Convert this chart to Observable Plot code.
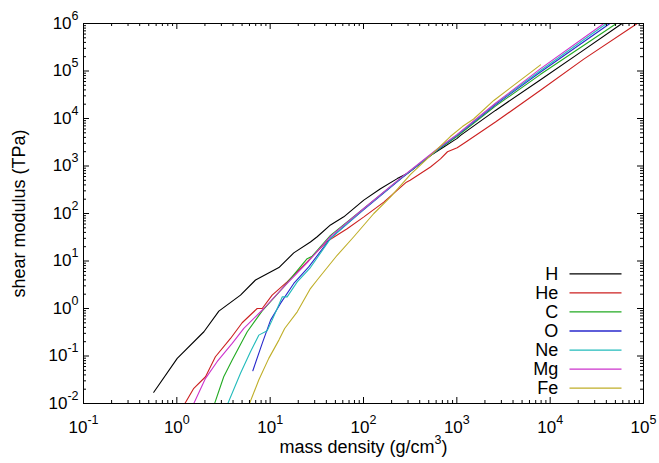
<!DOCTYPE html>
<html><head><meta charset="utf-8">
<script src="https://cdn.jsdelivr.net/npm/d3@7"></script>
<script src="https://cdn.jsdelivr.net/npm/@observablehq/plot@0.6"></script>
<style>
html,body{margin:0;padding:0;background:#fff;}
</style></head><body><div id="chart"></div>
<script>
const species = ["H", "He", "C", "O", "Ne", "Mg", "Fe"];
const colors = ["#000000", "#cc2020", "#22aa22", "#2828cc", "#22bbbb", "#cc33cc", "#bfae28"];
const xLabel = "mass density (g/cm^3)";
const yLabel = "shear modulus (TPa)";

const H_rho = [0.566, 1.01, 1.95, 2.82, 4.81, 6.97, 12.4, 17.9, 27.0, 31.9, 44.3, 61.5, 100.7, 152, 230, 294, 522, 725, 933, 1000, 1096, 2594, 7889, 19953, 58884];
const H_G = [0.0172, 0.0891, 0.324, 0.881, 1.91, 3.98, 7.29, 14.8, 25.1, 32.4, 57.5, 85.1, 191, 331, 543, 692, 1660, 2512, 3467, 3767, 4416, 14791, 65464, 229087, 1000000];

const He_rho = [1.22, 1.52, 2.03, 2.59, 3.76, 5.01, 7.26, 8.22, 10.5, 15.2, 24.9, 39.8, 66.8, 101, 165, 288, 316, 522, 668, 794, 1009, 1239, 2594, 7943, 22909, 85704];
const He_G = [0.01, 0.0209, 0.0366, 0.0964, 0.234, 0.501, 1.0, 1.0, 1.91, 3.63, 9.55, 25.1, 47.9, 85.1, 174, 457, 501, 955, 1413, 1995, 2432, 3162, 8414, 39811, 177828, 1000000];

const C_rho = [2.54, 3.18, 3.92, 5.68, 6.97, 8.22, 14.0, 24.9, 28.2, 44.3, 100, 251, 668, 1000, 2594, 7889, 51286];
const C_G = [0.01, 0.0366, 0.082, 0.324, 0.569, 0.891, 2.85, 11.2, 12.6, 34.7, 126, 550, 2399, 4169, 18197, 85114, 1000000];

const O_rho = [6.52, 8.22, 10.1, 12.9, 17.9, 25.9, 44.3, 100, 251, 668, 1000, 2594, 7889, 43652];
const O_G = [0.049, 0.184, 0.569, 1.28, 3.37, 7.52, 30.2, 120, 537, 2455, 4365, 19498, 95499, 1000000];

const Ne_rho = [3.52, 4.81, 6.15, 7.55, 9.29, 10.5, 13.5, 15.2, 19.5, 27.0, 44.3, 100, 251, 668, 1000, 2594, 7889, 40179];
const Ne_G = [0.01, 0.0432, 0.123, 0.275, 0.339, 0.569, 1.76, 1.76, 3.63, 7.29, 29.5, 123, 550, 2512, 4467, 20417, 102329, 1000000];

const Mg_rho = [1.52, 2.03, 2.70, 3.92, 5.22, 8.55, 14.0, 25.9, 44.3, 100, 251, 668, 1000, 2594, 7889, 37584];
const Mg_G = [0.01, 0.0339, 0.0759, 0.184, 0.380, 1.0, 2.85, 10.0, 33.1, 126, 562, 2570, 4571, 20893, 112202, 1000000];

const Fe_rho = [6.01, 7.55, 9.66, 12.4, 14.3, 19.5, 27.0, 31.9, 52.2, 78.7, 129, 195, 319, 522, 851, 1148, 1514, 2489, 7889];
const Fe_G = [0.01, 0.0312, 0.0891, 0.216, 0.380, 0.851, 2.63, 3.98, 13.2, 32.4, 100, 224, 668, 1660, 4169, 6761, 9772, 23988, 134896];

const xMajor = [0.1, 1, 10, 100, 1000, 10000, 100000];
const yMajor = [0.01, 0.1, 1, 10, 100, 1000, 10000, 100000, 1000000];

const series = {H: [H_rho, H_G], He: [He_rho, He_G], C: [C_rho, C_G], O: [O_rho, O_G], Ne: [Ne_rho, Ne_G], Mg: [Mg_rho, Mg_G], Fe: [Fe_rho, Fe_G]};
const rows = [];
for (const s of species) {
  const [r, g] = series[s];
  r.forEach((v, i) => rows.push({species: s, rho: v, G: g[i]}));
}
const minorOf = (major) => {
  const out = [];
  for (let i = 0; i < major.length - 1; i++) for (let m = 2; m <= 9; m++) out.push(m * major[i]);
  return out;
};
const xMinor = minorOf(xMajor), yMinor = minorOf(yMajor);

const W = 659, HT = 463, mL = 83, mR = 16, mT = 23, mB = 60;
const pw = W - mL - mR, ph = HT - mT - mB;
const xDom = [xMajor[0], xMajor[xMajor.length - 1]];
const yDom = [yMajor[0], yMajor[yMajor.length - 1]];
const lx0 = Math.log10(xDom[0]), lx1 = Math.log10(xDom[1]);
const ly0 = Math.log10(yDom[0]), ly1 = Math.log10(yDom[1]);
const fx = px => 10 ** (lx0 + (px - mL) / pw * (lx1 - lx0));
const fy = py => 10 ** (ly1 - (py - mT) / ph * (ly1 - ly0));

const legendRows = species.map((s, i) => ({s, y: fy(273.3 + 19.07 * i)}));
const fmt = d => `10^${Math.round(Math.log10(d))}`;
const font = "'Liberation Sans', Arial, Helvetica, sans-serif";

const plot = Plot.plot({
  width: W, height: HT,
  marginLeft: mL, marginRight: mR, marginTop: mT, marginBottom: mB,
  style: {fontFamily: font, fontSize: "17px", background: "#fff", color: "#000", overflow: "visible"},
  x: {type: "log", domain: xDom, label: null},
  y: {type: "log", domain: yDom, label: null},
  color: {domain: species, range: colors},
  marks: [
    Plot.line(rows, {x: "rho", y: "G", z: "species", stroke: "species", strokeWidth: 1.1, clip: true}),
    Plot.tickX(xMinor, {x: d => d, insetTop: ph - 3, stroke: "#000"}),
    Plot.tickX(xMinor, {x: d => d, insetBottom: ph - 3, stroke: "#000"}),
    Plot.tickX(xMajor, {x: d => d, insetTop: ph - 6, stroke: "#000"}),
    Plot.tickX(xMajor, {x: d => d, insetBottom: ph - 6, stroke: "#000"}),
    Plot.tickY(yMinor, {y: d => d, insetRight: pw - 3, stroke: "#000"}),
    Plot.tickY(yMinor, {y: d => d, insetLeft: pw - 3, stroke: "#000"}),
    Plot.tickY(yMajor, {y: d => d, insetRight: pw - 6, stroke: "#000"}),
    Plot.tickY(yMajor, {y: d => d, insetLeft: pw - 6, stroke: "#000"}),
    Plot.frame({stroke: "#000", strokeWidth: 1}),
    Plot.axisX(xMajor, {anchor: "bottom", tickSize: 0, tickPadding: 17, tickFormat: fmt, fontSize: 17, label: null}),
    Plot.axisY(yMajor, {anchor: "left", tickSize: 0, tickPadding: 5, tickFormat: fmt, fontSize: 17, label: null}),
    Plot.text([xLabel], {text: d => d, frameAnchor: "bottom", dy: 49, textAnchor: "middle", lineAnchor: "bottom", fontSize: 18}),
    Plot.text([yLabel], {text: d => d, frameAnchor: "left", dx: -64, rotate: -90, textAnchor: "middle", lineAnchor: "middle", fontSize: 18}),
    Plot.link(legendRows, {x1: () => fx(569), x2: () => fx(621), y1: "y", y2: "y", stroke: "s", strokeWidth: 1.3}),
    Plot.text(legendRows, {x: () => fx(557.7), y: "y", text: "s", textAnchor: "end", lineAnchor: "middle", fontSize: 18})
  ]
});

d3.select(plot).selectAll("text").each(function () {
  const t = this.textContent;
  const m = t.match(/^(.*?)\^(-?\d+)(.*)$/);
  if (!m) return;
  this.textContent = "";
  this.appendChild(document.createTextNode(m[1]));
  const sup = document.createElementNS("http://www.w3.org/2000/svg", "tspan");
  sup.setAttribute("dy", "-9");
  sup.setAttribute("font-size", "12.5");
  sup.textContent = m[2];
  this.appendChild(sup);
  if (m[3]) {
    const rest = document.createElementNS("http://www.w3.org/2000/svg", "tspan");
    rest.setAttribute("dy", "9");
    rest.textContent = m[3];
    this.appendChild(rest);
  }
});

document.getElementById("chart").appendChild(plot);
</script>
</body></html>
